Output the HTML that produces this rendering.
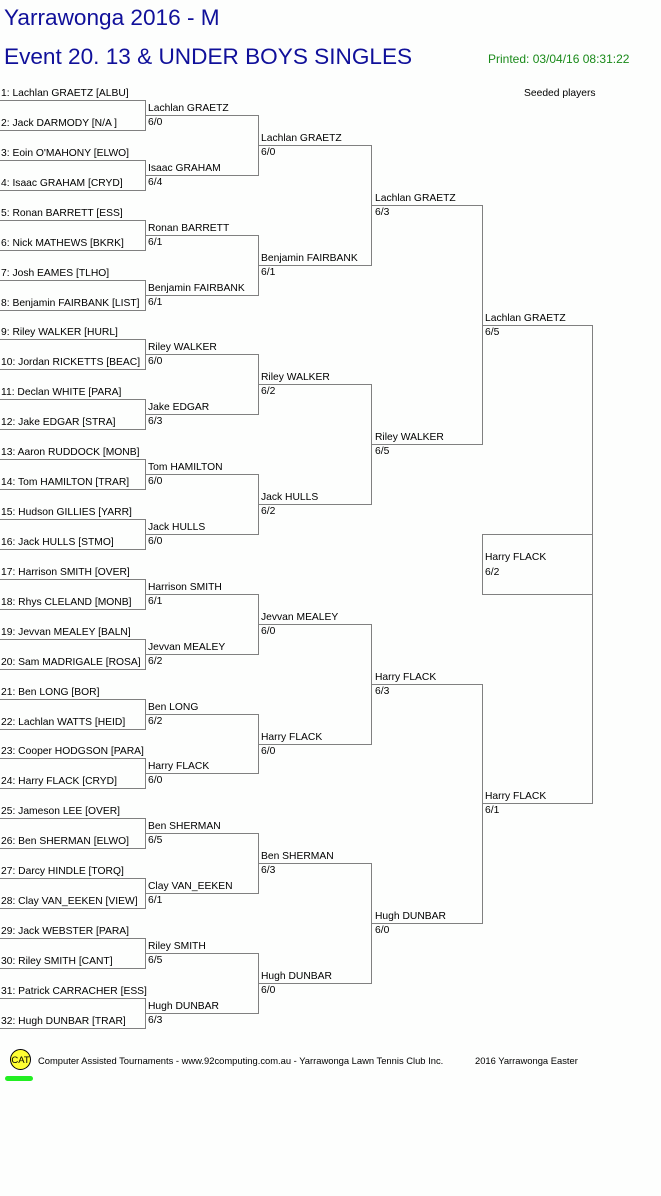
<!DOCTYPE html>
<html><head><meta charset="utf-8"><style>
html,body{margin:0;padding:0;background:#fdfefd;}
svg{display:block;font-family:"Liberation Sans",sans-serif;}
.t{font-size:10.3px;fill:#000;}
</style></head><body>
<svg width="661" height="1196" viewBox="0 0 661 1196" xmlns="http://www.w3.org/2000/svg">
<text x="4" y="25" font-size="22.6" fill="#10109a">Yarrawonga 2016 - M</text>
<text x="4" y="64" font-size="22.6" fill="#10109a">Event 20. 13 &amp; UNDER BOYS SINGLES</text>
<text x="488" y="63" font-size="12" fill="#1a8a1a">Printed: 03/04/16 08:31:22</text>
<text class="t" x="524" y="96">Seeded players</text>

<g stroke="#808080" stroke-width="1" fill="none" shape-rendering="crispEdges">
<path d="M0 100.5H145.5V130.5H0 M0 160.5H145.5V190.5H0 M0 220.5H145.5V250.5H0 M0 280.5H145.5V310.5H0 M0 339.5H145.5V369.5H0 M0 399.5H145.5V429.5H0 M0 459.5H145.5V489.5H0 M0 519.5H145.5V549.5H0 M0 579.5H145.5V609.5H0 M0 639.5H145.5V669.5H0 M0 699.5H145.5V729.5H0 M0 758.5H145.5V788.5H0 M0 818.5H145.5V848.5H0 M0 878.5H145.5V908.5H0 M0 938.5H145.5V968.5H0 M0 998.5H145.5V1028.5H0"/>
<path d="M145 115.5H258.5V175.5H145 M145 235.5H258.5V295.5H145 M145 354.5H258.5V414.5H145 M145 474.5H258.5V534.5H145 M145 594.5H258.5V654.5H145 M145 714.5H258.5V773.5H145 M145 833.5H258.5V893.5H145 M145 953.5H258.5V1013.5H145"/>
<path d="M258 145.5H371.5V265.5H258 M258 384.5H371.5V504.5H258 M258 624.5H371.5V744.5H258 M258 863.5H371.5V983.5H258"/>
<path d="M371 205.5H482.5V444.5H371 M371 684.5H482.5V923.5H371"/>
<path d="M482 325.5H592.5V803.5H482"/>
<path d="M592 534.5H482.5V594.5H592"/>
</g>

<g class="t">
<text x="1" y="96">1: Lachlan GRAETZ [ALBU]</text>
<text x="1" y="126">2: Jack DARMODY [N/A ]</text>
<text x="1" y="156">3: Eoin O'MAHONY [ELWO]</text>
<text x="1" y="186">4: Isaac GRAHAM [CRYD]</text>
<text x="1" y="216">5: Ronan BARRETT [ESS]</text>
<text x="1" y="246">6: Nick MATHEWS [BKRK]</text>
<text x="1" y="276">7: Josh EAMES [TLHO]</text>
<text x="1" y="306">8: Benjamin FAIRBANK [LIST]</text>
<text x="1" y="335">9: Riley WALKER [HURL]</text>
<text x="1" y="365">10: Jordan RICKETTS [BEAC]</text>
<text x="1" y="395">11: Declan WHITE [PARA]</text>
<text x="1" y="425">12: Jake EDGAR [STRA]</text>
<text x="1" y="455">13: Aaron RUDDOCK [MONB]</text>
<text x="1" y="485">14: Tom HAMILTON [TRAR]</text>
<text x="1" y="515">15: Hudson GILLIES [YARR]</text>
<text x="1" y="545">16: Jack HULLS [STMO]</text>
<text x="1" y="575">17: Harrison SMITH [OVER]</text>
<text x="1" y="605">18: Rhys CLELAND [MONB]</text>
<text x="1" y="635">19: Jevvan MEALEY [BALN]</text>
<text x="1" y="665">20: Sam MADRIGALE [ROSA]</text>
<text x="1" y="695">21: Ben LONG [BOR]</text>
<text x="1" y="725">22: Lachlan WATTS [HEID]</text>
<text x="1" y="754">23: Cooper HODGSON [PARA]</text>
<text x="1" y="784">24: Harry FLACK [CRYD]</text>
<text x="1" y="814">25: Jameson LEE [OVER]</text>
<text x="1" y="844">26: Ben SHERMAN [ELWO]</text>
<text x="1" y="874">27: Darcy HINDLE [TORQ]</text>
<text x="1" y="904">28: Clay VAN_EEKEN [VIEW]</text>
<text x="1" y="934">29: Jack WEBSTER [PARA]</text>
<text x="1" y="964">30: Riley SMITH [CANT]</text>
<text x="1" y="994">31: Patrick CARRACHER [ESS]</text>
<text x="1" y="1024">32: Hugh DUNBAR [TRAR]</text>

<text x="148" y="111">Lachlan GRAETZ</text><text x="148" y="125">6/0</text>
<text x="148" y="171">Isaac GRAHAM</text><text x="148" y="185">6/4</text>
<text x="148" y="231">Ronan BARRETT</text><text x="148" y="245">6/1</text>
<text x="148" y="291">Benjamin FAIRBANK</text><text x="148" y="305">6/1</text>
<text x="148" y="350">Riley WALKER</text><text x="148" y="364">6/0</text>
<text x="148" y="410">Jake EDGAR</text><text x="148" y="424">6/3</text>
<text x="148" y="470">Tom HAMILTON</text><text x="148" y="484">6/0</text>
<text x="148" y="530">Jack HULLS</text><text x="148" y="544">6/0</text>
<text x="148" y="590">Harrison SMITH</text><text x="148" y="604">6/1</text>
<text x="148" y="650">Jevvan MEALEY</text><text x="148" y="664">6/2</text>
<text x="148" y="710">Ben LONG</text><text x="148" y="724">6/2</text>
<text x="148" y="769">Harry FLACK</text><text x="148" y="783">6/0</text>
<text x="148" y="829">Ben SHERMAN</text><text x="148" y="843">6/5</text>
<text x="148" y="889">Clay VAN_EEKEN</text><text x="148" y="903">6/1</text>
<text x="148" y="949">Riley SMITH</text><text x="148" y="963">6/5</text>
<text x="148" y="1009">Hugh DUNBAR</text><text x="148" y="1023">6/3</text>

<text x="261" y="141">Lachlan GRAETZ</text><text x="261" y="155">6/0</text>
<text x="261" y="261">Benjamin FAIRBANK</text><text x="261" y="275">6/1</text>
<text x="261" y="380">Riley WALKER</text><text x="261" y="394">6/2</text>
<text x="261" y="500">Jack HULLS</text><text x="261" y="514">6/2</text>
<text x="261" y="620">Jevvan MEALEY</text><text x="261" y="634">6/0</text>
<text x="261" y="740">Harry FLACK</text><text x="261" y="754">6/0</text>
<text x="261" y="859">Ben SHERMAN</text><text x="261" y="873">6/3</text>
<text x="261" y="979">Hugh DUNBAR</text><text x="261" y="993">6/0</text>

<text x="375" y="201">Lachlan GRAETZ</text><text x="375" y="215">6/3</text>
<text x="375" y="440">Riley WALKER</text><text x="375" y="454">6/5</text>
<text x="375" y="680">Harry FLACK</text><text x="375" y="694">6/3</text>
<text x="375" y="919">Hugh DUNBAR</text><text x="375" y="933">6/0</text>

<text x="485" y="321">Lachlan GRAETZ</text><text x="485" y="335">6/5</text>
<text x="485" y="799">Harry FLACK</text><text x="485" y="813">6/1</text>

<text x="485" y="560">Harry FLACK</text><text x="485" y="575">6/2</text>
</g>

<circle cx="20.5" cy="1059.5" r="10" fill="#ffff33" stroke="#000" stroke-width="1"/>
<text x="20.5" y="1063" font-size="9.5" text-anchor="middle" fill="#000">CAT</text>
<rect x="5" y="1076" width="28" height="5" rx="2.5" fill="#22ee22"/>
<text x="38" y="1064" font-size="9.4" fill="#000">Computer Assisted Tournaments - www.92computing.com.au -  Yarrawonga Lawn Tennis Club Inc.</text>
<text x="475" y="1064" font-size="9.4" fill="#000">2016 Yarrawonga Easter</text>
</svg>
</body></html>
